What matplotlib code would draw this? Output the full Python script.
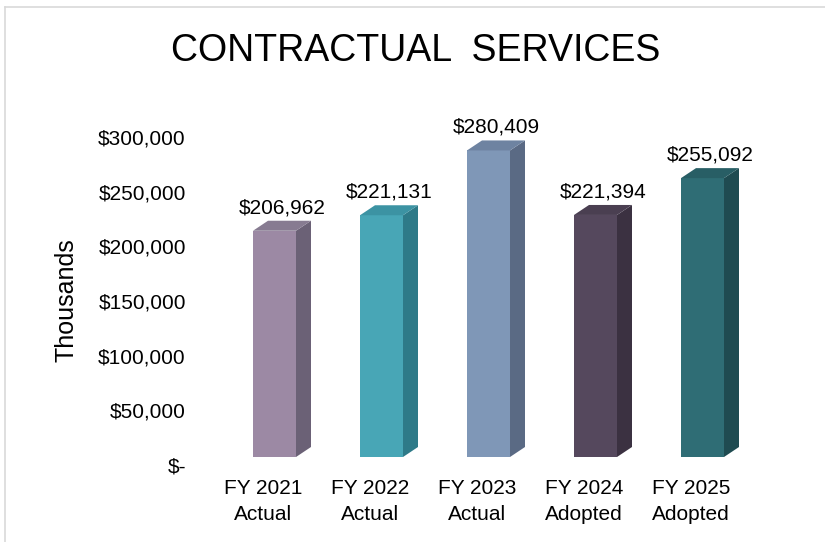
import matplotlib
matplotlib.use("Agg")
import matplotlib.pyplot as plt
from matplotlib.patches import Polygon
import numpy as np

plt.rcParams['font.family'] = ['Liberation Sans', 'DejaVu Sans']

categories = ["FY 2021\nActual", "FY 2022\nActual", "FY 2023\nActual",
              "FY 2024\nAdopted", "FY 2025\nAdopted"]
values = [206962, 221131, 280409, 221394, 255092]
value_labels = ["$206,962", "$221,131", "$280,409", "$221,394", "$255,092"]
yticks = [0, 50000, 100000, 150000, 200000, 250000, 300000]
ytick_labels = ["$-", "$50,000", "$100,000", "$150,000", "$200,000", "$250,000", "$300,000"]

front_colors = ["#9C89A4", "#48A6B6", "#7F97B7", "#55485D", "#2F6D75"]
side_colors = ["#6B6176", "#2E7A88", "#5A6A84", "#3B3141", "#1F4B51"]
top_colors = ["#877B91", "#3C93A3", "#6E83A1", "#4A3F51", "#285E65"]

fig = plt.figure(figsize=(8.25, 5.42), dpi=100)
W, H = 825, 542
ax = fig.add_axes([209.5 / W, (H - 465) / H, 535 / W, 355.3 / H])
ax.set_xlim(-0.5, 4.5)
ax.set_ylim(0, 325000)

def px(dxp, dyp):
    p0 = ax.transData.transform((0, 0))
    d = ax.transData.inverted().transform(p0 + np.array([dxp, dyp]))
    return d[0], d[1]

off_l, _ = px(-10, 0)
fw, _ = px(43, 0)
ddx, ddy = px(15, 10)
_, shift = px(0, 8)

for i, v in enumerate(values):
    x0 = i + off_l
    x1 = x0 + fw
    y0 = shift
    y1 = v + shift
    front = Polygon([(x0, y0), (x1, y0), (x1, y1), (x0, y1)], closed=True,
                    facecolor=front_colors[i], edgecolor='none', clip_on=False, zorder=3)
    side = Polygon([(x1, y0), (x1 + ddx, y0 + ddy), (x1 + ddx, y1 + ddy), (x1, y1)], closed=True,
                   facecolor=side_colors[i], edgecolor='none', clip_on=False, zorder=3)
    top = Polygon([(x0, y1), (x1, y1), (x1 + ddx, y1 + ddy), (x0 + ddx, y1 + ddy)], closed=True,
                  facecolor=top_colors[i], edgecolor='none', clip_on=False, zorder=3)
    for p in (front, side, top):
        ax.add_patch(p)
    ax.annotate(value_labels[i], xy=(x0 + (fw + ddx) / 2, y1 + ddy), xytext=(0, 9.5),
                textcoords='offset points', ha='center', va='center', fontsize=15,
                color='black', annotation_clip=False)

ax.set_xticks(range(len(categories)))
ax.set_xticklabels(categories, fontsize=15, linespacing=1.5)
ax.set_yticks(yticks)
ax.set_yticklabels(ytick_labels, fontsize=15)
ax.tick_params(axis='both', length=0)
ax.tick_params(axis='y', pad=17)
ax.tick_params(axis='x', pad=10)
for s in ax.spines.values():
    s.set_visible(False)

fig.text(66 / W, 1 - 300 / H, "Thousands", rotation=90, ha='center', va='center', fontsize=18)

fig.text(0.5 * (172 + 660) / W, 1 - 51 / H, "CONTRACTUAL  SERVICES", ha='center', va='center',
         fontsize=27, color='black')

# outer border lines
fig.add_artist(plt.Line2D([5 / W, 5 / W], [0, 1 - 7 / H], color='#d9d9d9', lw=1.2, transform=fig.transFigure))
fig.add_artist(plt.Line2D([5 / W, 1], [1 - 7 / H, 1 - 7 / H], color='#d9d9d9', lw=1.2, transform=fig.transFigure))

fig.savefig("out.png", dpi=100)
